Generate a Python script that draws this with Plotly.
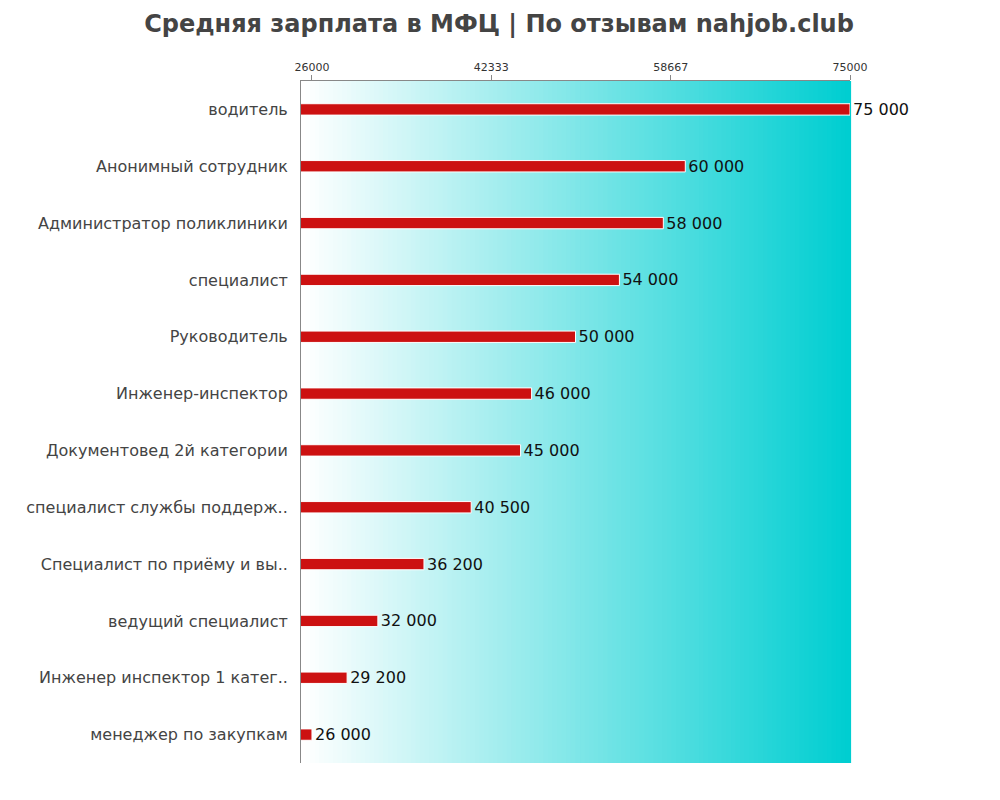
import plotly.graph_objects as go

categories = [
    "водитель",
    "Анонимный сотрудник",
    "Администратор поликлиники",
    "специалист",
    "Руководитель",
    "Инженер-инспектор",
    "Документовед 2й категории",
    "специалист службы поддерж..",
    "Специалист по приёму и вы..",
    "ведущий специалист",
    "Инженер инспектор 1 катег..",
    "менеджер по закупкам",
]
salaries = [75000, 60000, 58000, 54000, 50000, 46000, 45000, 40500, 36200, 32000, 29200, 26000]
tick_values = [26000, 42333, 58667, 75000]
tick_labels = ["26000", "42333", "58667", "75000"]

value_text = [f"{v:,}".replace(",", " ") for v in salaries]

fig = go.Figure()
fig.add_trace(go.Bar(
    y=categories,
    x=salaries,
    orientation="h",
    width=0.2,
    marker=dict(color="#CC1111", line=dict(color="white", width=1)),
    text=value_text,
    textposition="outside",
    constraintext="none",
    textfont=dict(family="DejaVu Sans", size=16, color="#111111"),
    cliponaxis=False,
))

# gradient background (white -> dark turquoise)
n = 120
shapes = []
for i in range(n):
    t = i / (n - 1)
    r = round(255 + (0 - 255) * t)
    g = round(255 + (206 - 255) * t)
    b = round(255 + (209 - 255) * t)
    shapes.append(dict(
        type="rect", xref="x domain", yref="y domain",
        x0=i / n, x1=(i + 1) / n + 0.002, y0=0, y1=1,
        fillcolor=f"rgb({r},{g},{b})", line=dict(width=0), layer="below",
    ))

fig.update_layout(
    width=1000, height=800,
    margin=dict(l=293, r=158, t=73, b=45, autoexpand=False),
    paper_bgcolor="white",
    plot_bgcolor="rgba(0,0,0,0)",
    shapes=shapes,
    showlegend=False,
    title=dict(
        text="<b>Средняя зарплата в МФЦ | По отзывам nahjob.club</b>",
        x=0.491, xanchor="center", y=0.981, yanchor="middle",
        font=dict(family="DejaVu Sans", size=24, color="#444444"),
    ),
    xaxis=dict(
        side="top", range=[25000, 75000], automargin=False,
        tickvals=tick_values, ticktext=tick_labels,
        tickfont=dict(family="DejaVu Sans", size=11, color="#333333"),
        ticks="outside", ticklen=5, tickcolor="#888888",
        showgrid=False, zeroline=False,
        showline=True, linecolor="#888888", linewidth=1,
    ),
    yaxis=dict(
        categoryorder="array", categoryarray=categories[::-1], automargin=False,
        tickfont=dict(family="DejaVu Sans", size=16, color="#444444"),
        ticks="", ticklabelstandoff=9,
        showgrid=False, zeroline=False,
        showline=True, linecolor="#888888", linewidth=1,
    ),
)

fig.write_html("out.html")
